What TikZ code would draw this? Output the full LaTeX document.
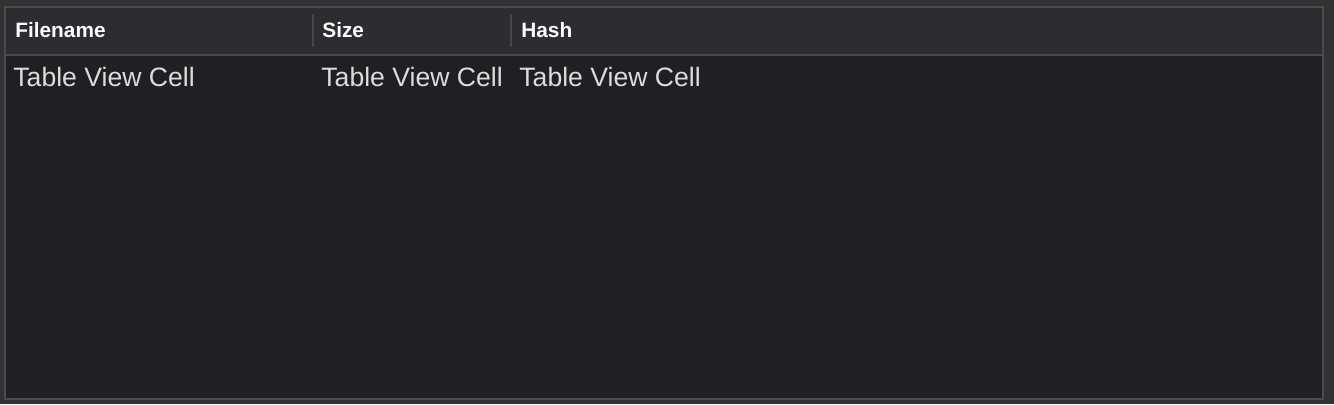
\documentclass[tikz,border=0pt]{standalone}
\usepackage{fontspec}
\setmainfont{Liberation Sans}
\usepackage{tikz}
\usetikzlibrary{calc, positioning, backgrounds}
\definecolor{outerbg}{HTML}{323232}
\definecolor{frame}{HTML}{4B4B4D}
\definecolor{headbg}{HTML}{2C2D31}
\definecolor{bodybg}{HTML}{1F2024}
\definecolor{sepcol}{HTML}{46474A}
\definecolor{celltxt}{HTML}{DCDCDD}
\tikzstyle{hdr}=[inner sep=0pt, anchor=base west, text=white, font=\fontsize{10.4}{12}\selectfont\bfseries]
\tikzstyle{cell}=[inner sep=0pt, anchor=base west, text=celltxt, font=\fontsize{13.3}{15}\selectfont]
\tikzstyle{sep}=[draw=sepcol, line width=1pt]

\begin{document}
\begin{tikzpicture}[x=0.5pt, y=-0.5pt]
\useasboundingbox (0,0) rectangle (1334,404);
\fill[outerbg] (0,0) rectangle (1334,404);
% table frame
\fill[bodybg] (6,56) rectangle (1322,398);
\fill[headbg] (6,8) rectangle (1322,54);
\draw[frame, line width=1pt] (5,7) rectangle (1323,399);
\draw[frame, line width=1pt] (6,55) -- (1322,55);
% column separators
\draw[sep] (313,14) -- (313,47);
\draw[sep] (511,14) -- (511,47);
\foreach \x/\t [count=\i] in {15/Filename,322/Size,521/Hash}{
\node[hdr] (H\i) at (\x,37) {\t};
}
\foreach \x [count=\i] in {13,321,519}{
\node[cell] (C\i) at (\x,86) {Table View Cell};
}
\end{tikzpicture}
\end{document}
